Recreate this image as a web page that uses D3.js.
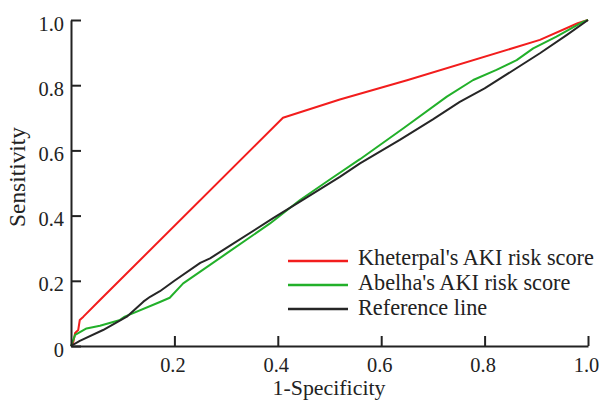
<!DOCTYPE html>
<html><head><meta charset="utf-8">
<script src="https://cdn.jsdelivr.net/npm/d3@7"></script>
<style>
html,body{margin:0;padding:0;background:#fff;}
svg{display:block;font-family:"Liberation Serif","Times New Roman",serif;}
</style></head>
<body><svg id="c" width="599" height="403"></svg>
<script>
const seriesNames = ["Kheterpal's AKI risk score", "Abelha's AKI risk score", "Reference line"];
const seriesColors = ["#f21d1d", "#22b02a", "#262626"];
const kheterpal = [[0,0],[0.004,0.008],[0.008,0.04],[0.014,0.049],[0.017,0.08],[0.024,0.09],[0.056,0.141],[0.41,0.70],[0.52,0.756],[0.65,0.815],[0.907,0.939],[0.98,0.99],[1,1]];
const abelha = [[0,0],[0.008,0.034],[0.03,0.054],[0.056,0.062],[0.095,0.08],[0.104,0.09],[0.172,0.135],[0.191,0.148],[0.217,0.192],[0.25,0.228],[0.301,0.284],[0.385,0.376],[0.443,0.448],[0.5,0.51],[0.559,0.573],[0.643,0.668],[0.727,0.765],[0.778,0.816],[0.823,0.847],[0.862,0.877],[0.894,0.913],[0.939,0.949],[0.991,0.995],[1,1]];
const reference = [[0,0],[0.017,0.016],[0.062,0.049],[0.108,0.09],[0.14,0.136],[0.153,0.151],[0.172,0.168],[0.2,0.2],[0.25,0.255],[0.269,0.269],[0.3,0.3],[0.391,0.392],[0.45,0.45],[0.52,0.519],[0.559,0.56],[0.636,0.632],[0.7,0.695],[0.752,0.749],[0.8,0.79],[0.907,0.898],[0.96,0.955],[1,1]];
const xTicks = [0.2,0.4,0.6,0.8,1.0];
const yTicks = [0,0.2,0.4,0.6,0.8,1.0];
const xTitle = "1-Specificity", yTitle = "Sensitivity";

const FONT = "'Liberation Serif','Times New Roman',serif";
const svg = d3.select("#c");
const x = d3.scaleLinear().domain([0,1]).range([71,588]);
const y = d3.scaleLinear().domain([0,1]).range([346,20]);
const fmt = v => v === 0 ? "0" : d3.format(".1f")(v);

// fit font size so a text sample has a target width
function fitSize(str, target, base) {
  const t = svg.append("text").attr("font-family",FONT).attr("font-size",base).text(str);
  const w = t.node().getComputedTextLength();
  t.remove();
  return w > 0 ? base * target / w : base;
}
const tickSize = fitSize("1.0", 25.5, 21);
const xTitleSize = fitSize(xTitle, 113, 22);
const yTitleSize = fitSize(yTitle, 100, 23);
const legSize = fitSize(seriesNames[0], 236, 23);

// lines
const line = d3.line().x(d=>x(d[0])).y(d=>y(d[1]));
[kheterpal, abelha, reference].forEach((s,i)=>{
  svg.append("path").datum(s).attr("d", line).attr("fill","none")
    .attr("stroke", seriesColors[i]).attr("stroke-width", 2).attr("stroke-linejoin","round");
});

// axes
const xAxis = svg.append("g").attr("transform",`translate(0,${y(0)})`)
  .call(d3.axisBottom(x).tickValues(xTicks).tickSize(-10).tickFormat(fmt).tickSizeOuter(0));
const yAxis = svg.append("g").attr("transform",`translate(${x(0)},0)`)
  .call(d3.axisLeft(y).tickValues(yTicks).tickSize(-10).tickFormat(fmt).tickSizeOuter(0));
[xAxis,yAxis].forEach(g=>{
  g.attr("font-family", FONT).attr("font-size", tickSize);
  g.select(".domain").attr("stroke","#222").attr("stroke-width",2);
  g.selectAll(".tick line").attr("stroke","#222").attr("stroke-width",2);
  g.selectAll("text").attr("fill","#222");
});
xAxis.selectAll(".tick text").attr("dy",null).attr("y",26).attr("x",-2);
yAxis.selectAll(".tick text").attr("dy",null).attr("x",-7).attr("y",10);

svg.append("text").attr("x",329).attr("y",395).attr("text-anchor","middle")
  .attr("fill","#222").attr("font-family",FONT).attr("font-size",xTitleSize).text(xTitle);
svg.append("text").attr("transform",`translate(25,177) rotate(-90)`).attr("text-anchor","middle")
  .attr("fill","#222").attr("font-family",FONT).attr("font-size",yTitleSize).text(yTitle);

// legend
seriesNames.forEach((n,i)=>{
  const ly = 261 + i*24;
  svg.append("line").attr("x1",288).attr("x2",348).attr("y1",ly).attr("y2",ly)
    .attr("stroke",seriesColors[i]).attr("stroke-width",2.5);
  svg.append("text").attr("x",358).attr("y",265 + i*25).attr("fill","#222")
    .attr("font-family",FONT).attr("font-size",legSize).text(n);
});
</script></body></html>
